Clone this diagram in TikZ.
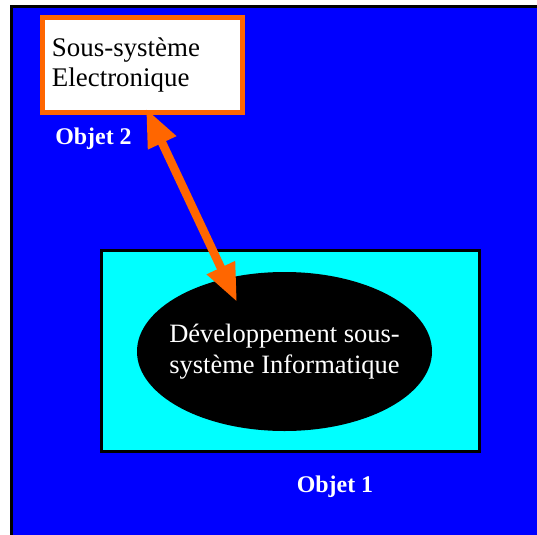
\documentclass[tikz,border=0pt]{standalone}
\usepackage{fontspec}
\setmainfont{Liberation Serif}
\usetikzlibrary{shapes.geometric,arrows.meta}
\definecolor{bgblue}{RGB}{0,0,255}
\definecolor{aqua}{RGB}{0,255,255}
\definecolor{orng}{RGB}{255,102,0}
\tikzset{bigtip/.tip={Triangle[length=38bp,width=29bp]}}
\begin{document}
\begin{tikzpicture}[x=1bp,y=-1bp,
  objlabel/.style={text=white,font=\fontsize{24}{28}\selectfont\bfseries,anchor=base,inner sep=0}]
\useasboundingbox (0,0) rectangle (537,535);
\fill[white] (0,0) rectangle (537,535);
\fill[bgblue] (11.5,6.5) rectangle (545,545);
\draw[line width=3bp] (11.5,545) -- (11.5,6.5) -- (545,6.5);
% Objet 1 frame
\node[draw=black,line width=3bp,fill=aqua,minimum width=378bp,minimum height=201bp,inner sep=0] (obj1) at (290.5,351) {};
\node[ellipse,fill=black,minimum width=295bp,minimum height=159bp,inner sep=0,
  label={[text=white,align=left,font=\fontsize{26.6}{31}\selectfont]center:Développement sous-\\système Informatique}] (ell) at (284.5,351.5) {};
% Objet 2 box
\node[draw=orng,line width=5bp,fill=white,minimum width=200bp,minimum height=95bp,inner xsep=9.5bp,text width=181bp,align=left,
  font=\fontsize{27}{30}\selectfont] (box) at (142.5,65) {Sous-système\\Electronique};
\node[objlabel] (l2) at (93.5,145) {Objet 2};
\node[objlabel] (l1) at (335,492) {Objet 1};
\draw[orng,line width=8.5bp,bigtip-bigtip] ([xshift=3.5bp,yshift=6.5bp]box.south) -- ([xshift=-47.5bp,yshift=49.5bp]ell.center);
\end{tikzpicture}
\end{document}
